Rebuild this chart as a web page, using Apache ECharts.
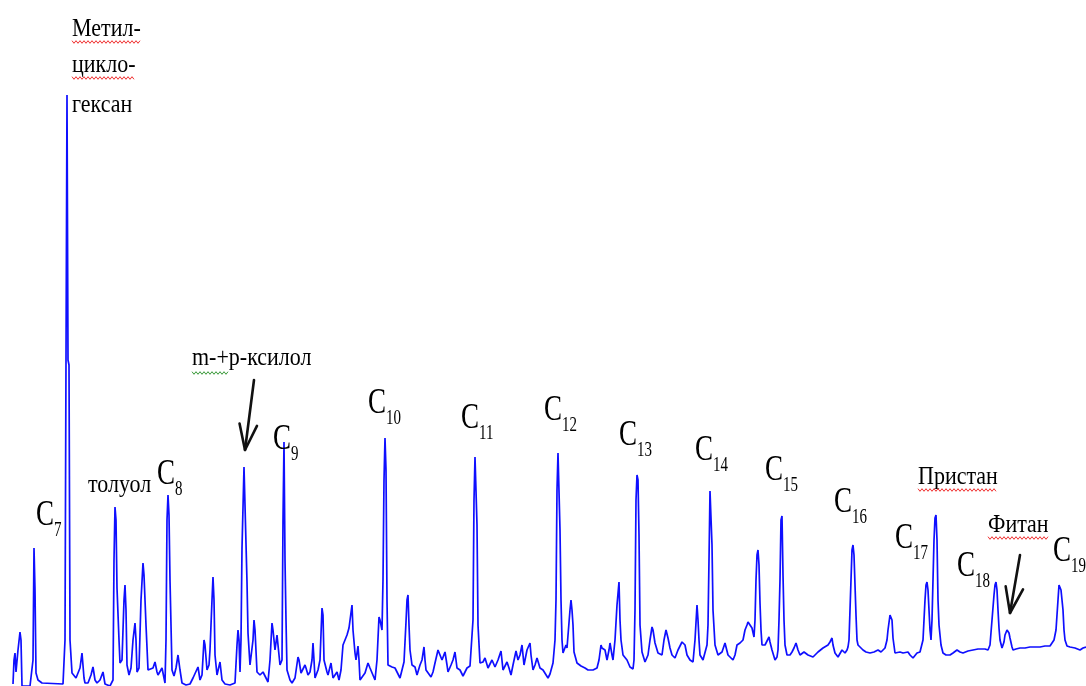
<!DOCTYPE html>
<html>
<head>
<meta charset="utf-8">
<style>
html,body{margin:0;padding:0;background:#fff}
#chart{width:1086px;height:686px}
</style>
<script src="https://cdn.jsdelivr.net/npm/echarts@6/dist/echarts.min.js"></script>
</head>
<body>
<div id="chart"></div>
<script>
// хроматограмма: время удерживания (усл. ед.) и отклик детектора
var rt = [
  13,14,15,16,18,20,21,22,25,30,32,33,34,35,36,38,42,63,65,66,
  67,68,69,70,72,76,78,80,82,84,85,88,91,93,95,97,100,103,105,106,
  110,113,114,115,116,117,119,120,122,124,125,126,127,129,131,133,135,136,137,139,
  141,143,144,146,148,150,153,155,157,158,160,162,164,165,166,167,168,169,170,172,
  174,176,178,180,182,186,190,193,195,198,200,202,204,205,207,209,210,212,213,214,
  215,217,220,222,225,230,235,237,238,239,240,241,242,244,246,247,248,250,251,253,
  254,255,257,260,263,265,268,270,272,273,275,277,278,280,282,283,284,285,286,287,
  290,292,295,298,299,301,303,305,306,308,310,312,313,314,315,318,320,322,323,324,
  327,328,331,333,335,337,339,341,343,345,347,349,350,352,353,355,356,358,359,360,
  362,365,368,370,372,375,377,379,380,382,383,384,385,386,387,388,390,392,395,397,
  400,402,404,406,407,408,409,410,412,415,417,420,422,424,425,426,428,431,433,435,
  438,440,442,445,447,448,451,453,455,457,460,463,465,467,470,472,473,474,475,476,
  477,478,480,483,485,488,490,492,495,498,501,503,505,507,509,511,513,516,518,520,
  522,524,527,530,531,533,535,537,540,543,545,548,550,553,555,556,557,558,559,560,
  561,562,563,566,567,568,570,571,572,573,574,577,579,581,585,588,590,593,597,599,
  601,602,605,606,607,609,610,612,613,615,617,619,620,621,623,625,627,630,633,634,
  635,636,637,638,639,640,642,645,648,650,652,653,655,658,660,662,664,666,668,670,
  672,675,678,680,682,684,685,687,690,693,695,697,698,699,700,703,705,707,708,709,
  710,711,712,713,715,718,720,722,725,726,728,730,733,735,737,740,743,745,747,748,
  750,752,754,755,756,757,758,759,760,761,762,765,767,769,770,772,775,777,778,779,
  780,781,782,783,784,785,787,790,792,794,796,798,800,802,804,806,808,810,813,815,
  818,820,823,825,828,830,832,833,835,838,840,842,845,847,848,849,850,851,852,853,
  854,855,856,857,858,860,863,866,870,874,878,881,883,885,887,888,890,891,892,893,
  895,897,900,903,905,908,910,913,915,917,920,922,923,924,925,926,927,928,929,930,
  931,932,933,934,935,936,937,938,939,940,941,943,946,950,953,957,960,963,968,973,
  978,980,985,988,990,992,994,995,996,997,998,999,1000,1002,1003,1004,1005,1007,1008,1009,
  1010,1012,1013,1016,1020,1025,1030,1035,1040,1045,1050,1052,1054,1056,1058,1059,1060,1061,1062,1063,
  1064,1065,1067,1070,1075,1080,1083,1086
];
var signal = [
  2,26,33,14,36,54,46,0,0,0,2,26,138,96,13,6,3,2,46,326,
  591,326,321,46,13,8,10,18,33,8,3,3,11,19,6,3,6,14,2,0,
  0,6,126,179,166,98,46,23,26,86,101,76,21,11,18,46,63,46,14,18,
  86,123,111,61,16,14,18,24,14,11,13,18,8,3,46,166,191,171,106,16,
  10,18,31,16,3,1,2,8,6,19,6,11,46,41,16,21,36,86,109,86,
  31,11,24,6,2,1,3,41,56,46,14,46,138,219,219,104,53,21,21,46,
  66,56,14,11,14,14,4,26,63,56,36,51,41,21,26,166,244,126,66,16,
  6,3,8,29,26,13,11,21,18,11,14,26,43,26,8,16,26,78,71,26,
  14,11,23,8,10,14,6,16,41,46,51,58,56,81,56,33,26,40,26,6,
  8,13,23,18,18,6,26,69,66,56,106,206,248,216,86,21,20,19,18,16,
  8,16,24,64,86,91,61,36,21,19,11,21,26,39,26,16,14,9,14,23,
  36,31,26,34,21,14,21,26,34,18,16,10,14,18,20,22,66,186,229,229,
  161,61,23,24,28,18,22,26,19,26,35,16,20,24,18,11,21,35,26,31,
  41,21,36,43,31,16,21,28,18,16,14,8,12,23,46,86,196,233,231,156,
  86,46,33,41,38,38,76,86,76,61,34,23,24,20,18,16,14,16,18,26,
  41,38,36,31,26,36,43,31,26,46,81,104,66,46,31,29,26,19,17,26,
  76,186,211,206,151,61,34,24,31,46,59,56,43,33,31,31,46,56,48,38,
  31,28,36,38,44,46,41,31,26,24,46,81,66,46,31,26,24,41,61,126,
  195,195,141,76,41,31,31,34,43,41,31,29,26,31,41,43,46,56,61,64,
  61,58,49,66,106,131,136,121,83,56,41,41,43,49,44,36,26,29,36,66,
  106,166,170,111,66,41,31,31,34,38,43,36,31,30,34,33,31,30,29,31,
  34,34,38,38,41,44,48,41,33,29,31,36,33,36,39,46,76,106,136,141,
  131,101,71,46,41,41,36,34,33,34,36,34,33,38,46,56,71,73,66,48,
  33,33,34,33,31,34,31,28,30,33,34,34,46,66,86,101,104,96,76,56,
  46,66,106,146,168,171,146,86,61,51,41,33,31,31,33,36,34,33,35,36,
  37,38,37,36,41,66,91,101,104,96,76,58,46,38,38,44,51,56,56,53,
  48,39,36,37,38,38,39,39,39,40,40,41,46,56,86,101,103,96,86,76,
  56,46,40,39,38,36,38,39
];

// подписи соединений (левый край, базовая линия текста)
var wordText = ['Метил-', 'цикло-', 'гексан', 'толуол', 'm-+p-ксилол', 'Пристан', 'Фитан'];
var wordRt = [72, 72, 72, 88, 192, 918, 988];
var wordSignal = [649, 613, 573, 193, 320, 201, 153];
var wordMark = ['red', 'red', '', '', 'green', 'red', 'red'];  // волнистое подчёркивание

// н-алканы C7..C19
var alkaneNum = ['7','8','9','10','11','12','13','14','15','16','17','18','19'];
var alkaneRt = [36, 157, 273, 368, 461, 544, 619, 695, 765, 834, 895, 957, 1053];
var alkaneSignal = [159, 200, 235, 271, 256, 264, 239, 224, 204, 172, 136, 108, 123];

// стрелки: начало -> острие
var arrowFrom = [[254, 306], [1020, 131]];
var arrowTo = [[245, 236], [1010, 73]];

var SERIF = '"Liberation Serif","Times New Roman",serif';
var mctx = document.createElement('canvas').getContext('2d');
function textW(str, font) {
  mctx.font = font;
  return mctx.measureText(str).width;
}
function squiggle(x0, x1, y, color) {
  var pts = [], k = 0;
  for (var x = x0; x <= x1; x += 2) {
    pts.push([x, y + (k % 2 ? 1.3 : -1.3)]);
    k++;
  }
  return { type: 'polyline', silent: true, shape: { points: pts },
    style: { stroke: color, lineWidth: 1, fill: null } };
}

var traceData = [];
for (var i = 0; i < rt.length; i++) traceData.push([rt[i], signal[i]]);
var wordData = [];
for (var i = 0; i < wordText.length; i++) wordData.push([wordRt[i], wordSignal[i], i]);
var alkaneData = [];
for (var i = 0; i < alkaneNum.length; i++) alkaneData.push([alkaneRt[i], alkaneSignal[i], i]);
var arrowData = [];
for (var i = 0; i < arrowFrom.length; i++) arrowData.push([arrowFrom[i][0], arrowFrom[i][1], arrowTo[i][0], arrowTo[i][1]]);

function renderWord(params, api) {
  var idx = api.value(2);
  var p = api.coord([api.value(0), api.value(1)]);
  var fs = 22, sy = 1.1;
  var font = fs + 'px ' + SERIF;
  var txt = wordText[idx];
  var children = [{
    type: 'text', x: p[0], y: p[1] - 0.32 * fs * sy, scaleY: sy, silent: true,
    style: { text: txt, font: font, fill: '#000', align: 'left', verticalAlign: 'middle' }
  }];
  var mark = wordMark[idx];
  if (mark === 'red') {
    children.push(squiggle(p[0], p[0] + textW(txt, font), p[1] + 5, '#f03030'));
  } else if (mark === 'green') {
    children.push(squiggle(p[0], p[0] + textW('m-+', font), p[1] + 7, '#3a9a3a'));
  }
  return { type: 'group', children: children };
}

function renderAlkane(params, api) {
  var idx = api.value(2);
  var p = api.coord([api.value(0), api.value(1)]);
  var fs = 27, sy = 1.32, fsub = 15, sysub = 1.35;
  var fontC = fs + 'px ' + SERIF;
  var wC = textW('C', fontC);
  return {
    type: 'group',
    children: [{
      type: 'text', x: p[0], y: p[1] - 0.32 * fs * sy, scaleY: sy, silent: true,
      style: { text: 'C', font: fontC, fill: '#000', verticalAlign: 'middle' }
    }, {
      type: 'text', x: p[0] + wC, y: p[1] + 10 - 0.32 * fsub * sysub, scaleY: sysub, silent: true,
      style: { text: alkaneNum[idx], font: fsub + 'px ' + SERIF, fill: '#000', verticalAlign: 'middle' }
    }]
  };
}

function renderArrow(params, api) {
  var a = api.coord([api.value(0), api.value(1)]);
  var b = api.coord([api.value(2), api.value(3)]);
  var ang = Math.atan2(a[1] - b[1], a[0] - b[0]);
  var len = 27, spread = 19 * Math.PI / 180;
  var w1 = [b[0] + len * Math.cos(ang - spread), b[1] + len * Math.sin(ang - spread)];
  var w2 = [b[0] + len * Math.cos(ang + spread), b[1] + len * Math.sin(ang + spread)];
  var st = { stroke: '#111', lineWidth: 2.6, lineCap: 'round', lineJoin: 'round', fill: null };
  return {
    type: 'group',
    children: [
      { type: 'line', silent: true, shape: { x1: a[0], y1: a[1], x2: b[0], y2: b[1] }, style: st },
      { type: 'polyline', silent: true, shape: { points: [w1, b, w2] }, style: st }
    ]
  };
}

var myChart = echarts.init(document.getElementById('chart'));
var option = {
  animation: false,
  backgroundColor: '#ffffff',
  grid: { left: 0, right: 0, top: 0, bottom: 0 },
  xAxis: { type: 'value', min: 0, max: 1086, show: false },
  yAxis: { type: 'value', min: 0, max: 686, show: false },
  series: [
    {
      type: 'line',
      data: traceData,
      showSymbol: false,
      symbol: 'none',
      clip: false,
      lineStyle: { color: '#0f0fff', width: 1.7 },
      z: 2
    },
    { type: 'custom', data: wordData, renderItem: renderWord, clip: false, silent: true, z: 3 },
    { type: 'custom', data: alkaneData, renderItem: renderAlkane, clip: false, silent: true, z: 3 },
    { type: 'custom', data: arrowData, renderItem: renderArrow, clip: false, silent: true, z: 3 }
  ]
};
myChart.setOption(option);
</script>
</body>
</html>
